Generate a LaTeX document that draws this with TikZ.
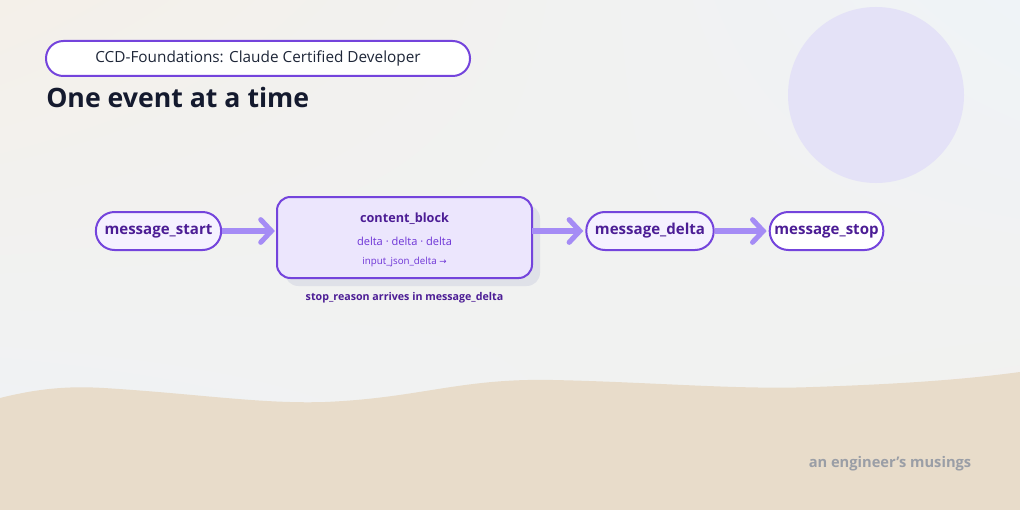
\documentclass[tikz,border=0pt]{standalone}
\usepackage{fontspec}
\setmainfont{Open Sans}
\newfontfamily\symfont{DejaVu Sans}
\usetikzlibrary{arrows.meta,shadings}

\definecolor{bgwarm}{HTML}{F4F0E9}
\definecolor{bgcool}{HTML}{EFF3F7}
\definecolor{sand}{HTML}{E8DCCA}
\definecolor{sun}{HTML}{E4E2F7}
\definecolor{ink}{HTML}{141A2E}
\definecolor{subink}{HTML}{1E2638}
\definecolor{edge}{HTML}{7444DC}
\definecolor{evtfill}{HTML}{F5F1FF}
\definecolor{blockfill}{HTML}{ECE6FD}
\definecolor{evttext}{HTML}{4C1D95}
\definecolor{deltatext}{HTML}{6D33D6}
\definecolor{flow}{HTML}{A58CF5}
\definecolor{shadowgray}{HTML}{DFE1E8}
\definecolor{signgray}{HTML}{9A9EA6}

\tikzset{
  evt/.style={draw=edge, fill=evtfill, line width=1.5pt, rounded corners=14pt,
    minimum height=28.5pt, inner xsep=6.5pt, text=evttext,
    font=\fontsize{11.3}{13}\selectfont\bfseries},
  flowarrow/.style={draw=flow, line width=3.8pt,
    -{Straight Barb[length=8pt,width=17pt,line cap=round]}, shorten >=1.5pt},
}

\begin{document}
\begin{tikzpicture}[x=0.75pt,y=-0.75pt]
    \useasboundingbox (0,0) rectangle (1020,510);
    \shade[upper left=bgwarm, upper right=bgcool, lower left=bgcool, lower right=bgwarm!70!bgcool]
        (0,0) rectangle (1020,510);
    \fill[sun] (876,95) circle (88);
    \fill[sand] (0,398) .. controls (40,388) and (70,386) .. (104,388)
        .. controls (200,394) and (260,404) .. (325,402)
        .. controls (420,398) and (460,378) .. (553,380)
        .. controls (650,382) and (740,390) .. (813,387)
        .. controls (900,384) and (960,380) .. (1020,372)
        -- (1020,510) -- (0,510) -- cycle;

    \draw[edge, fill=white, line width=1.5pt, rounded corners=13pt] (46,41) rectangle (470,76);
    \node[text=subink, font=\fontsize{11.5}{13}\selectfont] (badge) at (258,58.5) {CCD-Foundations: Claude Certified Developer};
    \node[anchor=base west, inner sep=0pt, text=ink, font=\fontsize{20}{24}\selectfont\bfseries] (title) at (46,107) {One event at a time};

    \fill[shadowgray, rounded corners=10pt] (285,205) rectangle (540,286);
    \draw[edge, fill=blockfill, line width=1.5pt, rounded corners=10pt] (277,197) rectangle (532,278);
    \node (block) at (404.5,237.5) [minimum width=191pt, minimum height=61pt] {};
    \node[text=evttext, font=\fontsize{9.5}{11}\selectfont\bfseries] (blockname) at (404.5,218.5) {content\_block};
    \node[text=deltatext, font=\fontsize{8.3}{10}\selectfont] (deltas) at (404.5,241) {delta · delta · delta};
    \node[text=deltatext, font=\fontsize{7.3}{9}\selectfont] (jsondelta) at (404.5,262) {input\_json\_delta {\symfont\fontsize{6.5}{9}\selectfont →}};
    \node[text=evttext, font=\fontsize{8}{10}\selectfont\bfseries] (stopnote) at (404.5,298) {stop\_reason arrives in message\_delta};

    \node[evt] (start) at (158.5,231) {message\_start};
    \node[evt] (mdelta) at (650,231) {message\_delta};
    \node[evt, fill=white, inner xsep=3.5pt] (mstop) at (826.5,231) {message\_stop};

    \draw[flowarrow] (start) -- (start -| block.west);
    \draw[flowarrow] (mdelta -| block.east) -- (mdelta);
    \draw[flowarrow] (mdelta) -- (mstop);

    \node[text=signgray, font=\fontsize{11}{13}\selectfont\bfseries] (sign) at (890,464) {an engineer's musings};
\end{tikzpicture}
\end{document}
